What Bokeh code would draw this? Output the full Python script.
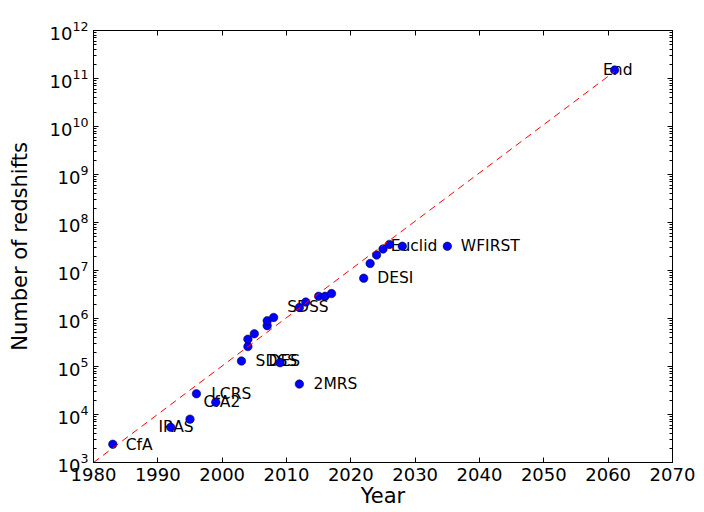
from bokeh.plotting import figure
from bokeh.models import LogAxis, LinearAxis, FixedTicker, LogTicker, Range1d, CustomJSTickFormatter
from bokeh.embed import file_html
from bokeh.resources import INLINE
from bokeh.core.properties import value

# survey points (year, number of redshifts)
years = [1983, 1992, 1995, 1996, 1999, 2003, 2004, 2004, 2005, 2007, 2007, 2008,
         2009, 2012, 2012, 2013, 2015, 2016, 2017, 2022, 2023, 2024, 2025, 2026,
         2028, 2035, 2061]
counts = [2.4e3, 5.4e3, 8.0e3, 2.7e4, 1.8e4, 1.3e5, 2.6e5, 3.7e5, 4.8e5, 7.1e5, 9.0e5, 1.05e6,
          1.2e5, 4.3e4, 1.7e6, 2.2e6, 2.9e6, 2.9e6, 3.3e6, 6.9e6, 1.4e7, 2.1e7, 2.8e7, 3.5e7,
          3.2e7, 3.2e7, 1.5e11]

# survey labels and where they sit (data coordinates)
names = ["CfA", "IRAS", "LCRS", "CfA2", "SDSS", "DES", "2MRS", "SDSS", "DESI", "Euclid", "WFIRST", "End"]
label_years = [1985.0, 1990.1, 1998.3, 1997.1, 2005.2, 2007.2, 2014.2, 2010.1, 2024.1, 2026.2, 2037.1, 2059.2]
label_counts = [2.3e3, 5.4e3, 2.7e4, 1.8e4, 1.3e5, 1.3e5, 4.3e4, 1.7e6, 7.1e6, 3.2e7, 3.2e7, 1.5e11]

# trend line
trend_years = [1980, 2061]
trend_counts = [1e3, 1.4e11]

x_ticks = [1980, 1990, 2000, 2010, 2020, 2030, 2040, 2050, 2060, 2070]
x_lim = (1980, 2070)
y_lim = (1e3, 1e12)

FONT = "DejaVu Sans"

p = figure(width=704, height=512, output_backend="svg", toolbar_location=None,
           x_range=Range1d(*x_lim), y_range=Range1d(*y_lim), y_axis_type="log",
           min_border_left=93, min_border_top=30, min_border_right=32, min_border_bottom=50)

p.xgrid.visible = False
p.ygrid.visible = False
p.outline_line_color = "black"
p.outline_line_width = 1
p.background_fill_color = "white"
p.border_fill_color = "white"

xa = p.xaxis[0]
xa.ticker = FixedTicker(ticks=x_ticks)
ya = p.yaxis[0]
ya.ticker = LogTicker(num_minor_ticks=10)

for ax in (xa, ya):
    ax.axis_line_color = "black"
    ax.major_tick_in = 5
    ax.major_tick_out = 0
    ax.minor_tick_in = 3
    ax.minor_tick_out = 0
    ax.major_tick_line_color = "black"
    ax.minor_tick_line_color = "black"
    ax.major_label_text_font = FONT
    ax.major_label_text_font_size = "18px"
    ax.major_label_text_color = "black"
    ax.axis_label_text_font = FONT
    ax.axis_label_text_font_size = "21px"
    ax.axis_label_text_font_style = "normal"
    ax.axis_label_text_color = "black"
xa.minor_tick_line_color = None
xa.axis_label = "Year"
ya.axis_label = "Number of redshifts"
xa.major_label_standoff = 5
xa.axis_label_standoff = 0
ya.major_label_standoff = 5
ya.axis_label_standoff = 15

blank = CustomJSTickFormatter(code="return ' '")
top = LinearAxis(ticker=FixedTicker(ticks=x_ticks), major_tick_in=5, major_tick_out=0,
                 minor_tick_line_color=None, formatter=blank, major_label_text_font_size="2px",
                 major_label_text_color=None, axis_line_color="black", major_label_standoff=0)
right = LogAxis(ticker=LogTicker(num_minor_ticks=10), major_tick_in=5, major_tick_out=0,
                minor_tick_in=3, minor_tick_out=0, formatter=blank, major_label_text_font_size="2px",
                major_label_text_color=None, axis_line_color="black", major_label_standoff=0)
p.add_layout(top, "above")
p.add_layout(right, "right")

p.text(x=label_years, y=label_counts, text=names, text_font=value(FONT),
       text_font_size="15.5px", text_baseline="middle", text_align="left", text_color="black")
p.scatter(x=years, y=counts, size=8.5, fill_color="#0000ff", line_color="black", line_width=0.5)
p.line(x=trend_years, y=trend_counts, line_color="#ff0000", line_width=1, line_dash="7 5")

open("out.html", "w").write(file_html(p, INLINE))
